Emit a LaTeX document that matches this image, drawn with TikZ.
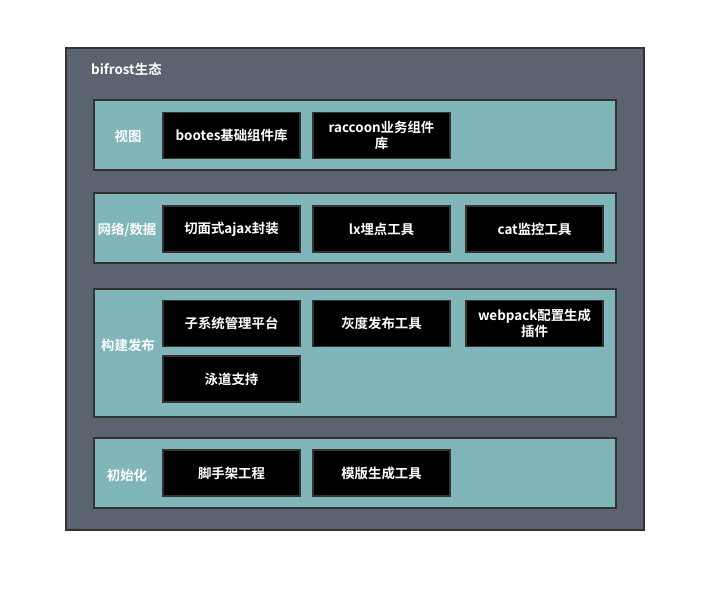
\documentclass[tikz,border=0pt]{standalone}
\usepackage{fontspec}
\setmainfont{Noto Sans CJK SC}[BoldFont={* Bold}]
\definecolor{outerfill}{HTML}{5B6370}
\definecolor{bandfill}{HTML}{80B5BA}
\definecolor{edge}{HTML}{333333}
\tikzset{
  outerbox/.style={draw=edge, line width=1.6pt, fill=outerfill},
  band/.style={draw=edge, line width=1.6pt, fill=bandfill, minimum width=522pt, inner sep=0pt},
  itembox/.style={draw=edge, line width=1.6pt, fill=black, minimum width=137pt, minimum height=46pt, inner sep=2pt,
    text=white, font=\bfseries\fontsize{13.4}{16.5}\selectfont, align=center},
  bandlabel/.style={text=white, font=\bfseries\fontsize{13.4}{16.5}\selectfont, inner sep=0pt},
}
\begin{document}
\begin{tikzpicture}[x=1pt,y=-1pt]
\useasboundingbox (0,0) rectangle (706,592);
\node[outerbox, minimum width=578pt, minimum height=482pt, inner sep=0pt] (outer) at (355,289) {};
\node[bandlabel, anchor=west] (title) at (91,69) {bifrost生态};
% band 1
\node[band, minimum height=70pt] (view) at (355,135) {};
\node[bandlabel] (viewl) at (128,136) {视图};
\node[itembox] (v1) at (231.5,135.5) {bootes基础组件库};
\node[itembox] (v2) at (381.5,135.5) {raccoon业务组件\\库};
% band 2
\node[band, minimum height=70pt] (net) at (355,228) {};
\node[bandlabel] (netl) at (127,230) {网络/数据};
\node[itembox] (n1) at (231.5,229) {切面式ajax封装};
\node[itembox] (n2) at (381.5,229) {lx埋点工具};
\node[itembox] (n3) at (534.5,229) {cat监控工具};
% band 3
\node[band, minimum height=128pt] (build) at (355,353) {};
\node[bandlabel] (buildl) at (128,345) {构建发布};
\node[itembox] (b1) at (231.5,323.5) {子系统管理平台};
\node[itembox] (b2) at (381.5,323.5) {灰度发布工具};
\node[itembox] (b3) at (534.5,323.5) {webpack配置生成\\插件};
\node[itembox] (b4) at (231.5,379) {泳道支持};
% band 4
\node[band, minimum height=70pt] (init) at (355,473) {};
\node[bandlabel] (initl) at (127,475) {初始化};
\node[itembox] (i1) at (231.5,473) {脚手架工程};
\node[itembox] (i2) at (381.5,473) {模版生成工具};
\end{tikzpicture}
\end{document}
